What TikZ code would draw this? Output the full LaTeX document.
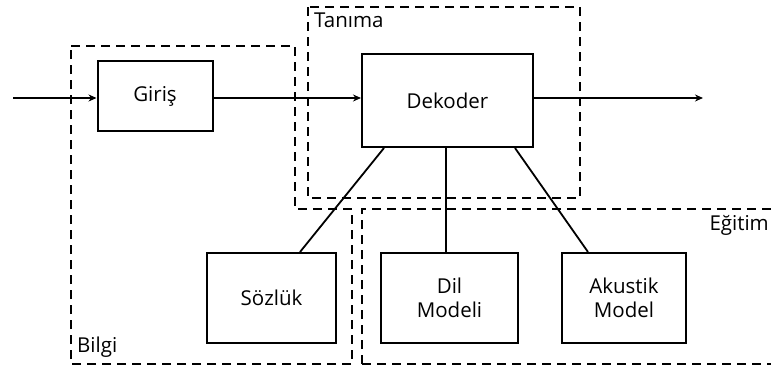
\documentclass[tikz,border=0pt]{standalone}
\usepackage{fontspec}
\setmainfont{Open Sans}
\usetikzlibrary{arrows.meta}
\begin{document}
\begin{tikzpicture}[x=1pt,y=-1pt,
  blk/.style={draw,line width=2pt,inner sep=0pt,font=\fontsize{20.5}{24}\selectfont,align=center},
  grp/.style={draw,line width=2pt,dash pattern=on 9pt off 6pt},
  lbl/.style={font=\fontsize{20.5}{24}\selectfont,inner sep=0pt},
  conn/.style={line width=1.8pt},
  arr/.style={line width=1.8pt,-{Stealth[length=8pt,width=7pt]}}]
\useasboundingbox (0,0) rectangle (771,367);
% groups
\draw[grp] (71,46) -- (295,46) -- (295,209) -- (352,209) -- (352,364) -- (71,364) -- cycle;
\draw[grp] (308,7) rectangle (580,198);
\draw[grp] (362,364) -- (362,209) -- (775,209);
\draw[grp] (362,364) -- (775,364);
\node[lbl,anchor=north west] (tl) at (314,13) {Tanıma};
\node[lbl,anchor=south west] (bl) at (77,358) {Bilgi};
\node[lbl,anchor=north east] (el) at (769,215) {Eğitim};
% blocks
\node[blk,minimum width=115pt,minimum height=70pt] (giris) at (155,96) {Giriş};
\node[blk,minimum width=171pt,minimum height=93pt] (dek) at (447.5,100.5) {Dekoder};
\node[blk,minimum width=129pt,minimum height=90pt] (soz) at (271.5,298) {Sözlük};
\node[blk,minimum width=137pt,minimum height=90pt] (dil) at (449.5,298) {Dil\\[0pt]Modeli};
\node[blk,minimum width=124pt,minimum height=90pt] (aku) at (624,298) {Akustik\\[0pt]Model};
\coordinate (in) at (13,98);
\coordinate (out) at (703,98);
% connectors
\draw[arr] (in) -- (giris.west |- in);
\draw[arr] (giris.east |- in) -- (dek.west |- in);
\draw[arr] (dek.east |- out) -- (out);
\draw[conn] (dek.south -| 384,0) -- (soz.north -| 300,0);
\draw[conn] (dek.south -| 446,0) -- (dil.north -| 446,0);
\draw[conn] (dek.south -| 515,0) -- (aku.north -| 588,0);
\end{tikzpicture}
\end{document}
